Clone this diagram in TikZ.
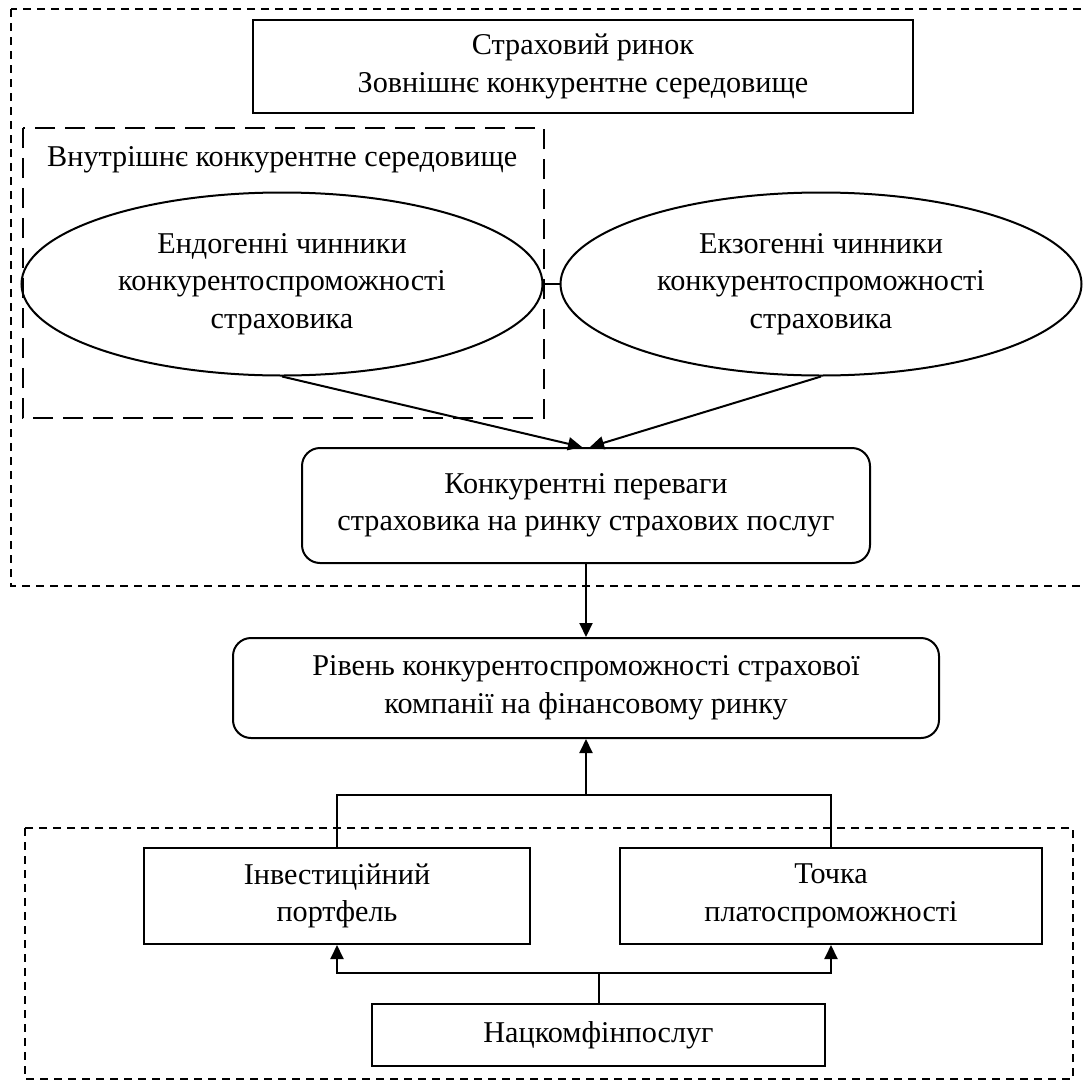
\documentclass[tikz,border=0pt]{standalone}
\usepackage{fontspec}
\setmainfont{Liberation Serif}
\usetikzlibrary{shapes.geometric,arrows.meta}
\begin{document}
\begin{tikzpicture}[x=1pt,y=-1pt, font=\fontsize{30.2}{37.5}\selectfont,
 box/.style={draw,line width=2pt,inner sep=0pt,align=center},
 rbox/.style={box,rounded corners=18pt},
 oval/.style={draw,ellipse,line width=2pt,inner sep=0pt,align=center,minimum width=521pt,minimum height=183pt},
 conn/.style={line width=2pt},
 arr/.style={conn,-{Triangle[length=14pt,width=13pt]}},
 outerdash/.style={line width=1.5pt,dash pattern=on 8pt off 6pt},
 innerdash/.style={line width=2.5pt,dash pattern=on 20pt off 10pt}]
\useasboundingbox (0,0) rectangle (1084,1084);
\clip (0,0) rectangle (1084,1084);
\fill[white] (0,0) rectangle (1084,1084);

% frames
\draw[outerdash] (11,9) rectangle (1110,586);
\draw[innerdash] (23,128) rectangle (544,418);
\draw[outerdash] (25,828) rectangle (1073,1079);

% nodes
\node[box,minimum width=660pt,minimum height=93pt] (market) at (583,66.5) {Страховий ринок\\Зовнішнє конкурентне середовище};
\node[anchor=west,inner sep=0pt] (innerlbl) at (47,160) {Внутрішнє конкурентне середовище};
\node[oval] (le) at (282,284) {Ендогенні чинники\\конкурентоспроможності\\страховика};
\node[oval] (re) at (821,284) {Екзогенні чинники\\конкурентоспроможності\\страховика};
\node[rbox,minimum width=568pt,minimum height=115pt] (kp) at (586,505.5) {Конкурентні переваги\\страховика на ринку страхових послуг};
\node[rbox,minimum width=706pt,minimum height=100pt] (level) at (586,688) {Рівень конкурентоспроможності страхової\\компанії на фінансовому ринку};
\node[box,minimum width=386pt,minimum height=96pt] (inv) at (337,896) {Інвестиційний\\портфель};
\node[box,minimum width=422pt,minimum height=96pt] (tochka) at (831,896) {Точка\\платоспроможності};
\node[box,minimum width=453pt,minimum height=62pt] (nkf) at (598.5,1035) {Нацкомфінпослуг};

% connectors
\draw[line width=1.5pt] (le.east) -- (re.west);
\draw[arr] (le.south) -- ([xshift=-4pt]kp.north);
\draw[arr] (re.south) -- ([xshift=4pt]kp.north);
\draw[arr] (kp.south) -- (level.north);
\coordinate (jtop) at (586,795);
\draw[conn] (inv.north) |- (jtop) -| (tochka.north);
\draw[arr] (jtop) -- (level.south);
\coordinate (jbot) at (598.5,973);
\draw[conn] (nkf.north) -- (jbot);
\draw[arr] (jbot) -| (inv.south);
\draw[arr] (jbot) -| (tochka.south);
\end{tikzpicture}
\end{document}
